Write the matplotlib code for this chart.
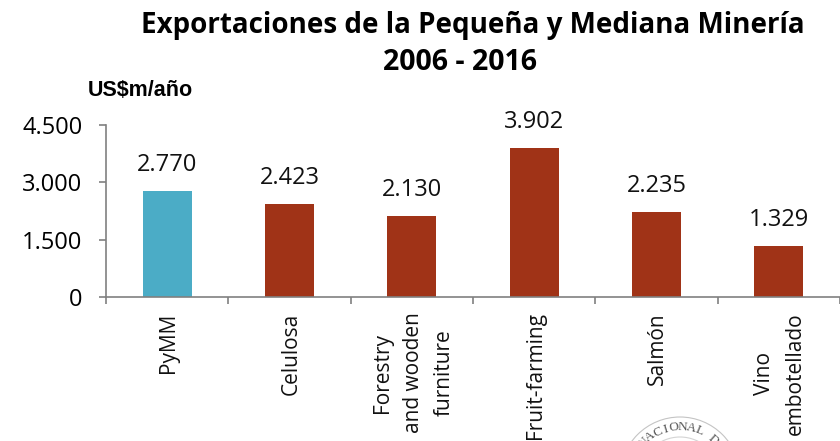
import numpy as np
import matplotlib
matplotlib.use("Agg")
import matplotlib.pyplot as plt
from matplotlib.patches import Circle

categories = ["PyMM", "Celulosa", "Forestry\nand wooden\nfurniture", "Fruit-farming", "Salmón", "Vino\nembotellado"]
values = [2770, 2423, 2130, 3902, 2235, 1329]
value_labels = ["2.770", "2.423", "2.130", "3.902", "2.235", "1.329"]
colors = ["#4BACC6", "#A03317", "#A03317", "#A03317", "#A03317", "#A03317"]
yticks = [0, 1500, 3000, 4500]
ytick_labels = ["0", "1.500", "3.000", "4.500"]
seal_text = "NACIONAL D"

plt.rcParams['font.family'] = ['Open Sans', 'DejaVu Sans']

fig = plt.figure(figsize=(8.4, 4.41), dpi=100)
ax = fig.add_axes([106/840, 1-297/441, (840-106)/840, (297-125)/441])

x = np.arange(len(categories))
ax.bar(x, values, width=0.4, color=colors)
for xi, v, lab in zip(x, values, value_labels):
    ax.annotate(lab, (xi, v), xytext=(0, 10), textcoords="offset points", ha="center", va="bottom", fontsize=17, color="#111111")

ax.set_xlim(-0.5, 5.5)
ax.set_ylim(0, 4500)
ax.set_yticks(yticks)
ax.set_yticklabels(ytick_labels, fontsize=17)
ax.set_xticks(np.arange(-0.5, 6, 1))
ax.set_xticklabels([])
ax.tick_params(axis="both", color="#808080", length=5, width=1.2)
ax.tick_params(axis="y", pad=12)
for s in ["top", "right"]:
    ax.spines[s].set_visible(False)
for s in ["left", "bottom"]:
    ax.spines[s].set_color("#808080")
    ax.spines[s].set_linewidth(1.2)

# category labels, centred as a block, the long ones run to the bottom edge
for xi, c in zip(x, categories):
    ax.annotate(c, (xi, 0), xytext=(1, -11), textcoords="offset points", rotation=90, ha="center", va="top",
                fontsize=15, multialignment="center", linespacing=1.6, annotation_clip=False, color="#111111")

fig.text(473/840, 1-26/441, "Exportaciones de la Pequeña y Mediana Minería", ha="center", va="center", fontsize=20, fontweight="bold")
fig.text(460/840, 1-62/441, "2006 - 2016", ha="center", va="center", fontsize=20.5, fontweight="bold")
fig.text(88/840, 1-90/441, "US$m/año", fontsize=15.5, fontweight="bold", va="center", family="Liberation Sans")

# the stamp at the bottom edge, only its top shows
overlay = fig.add_axes([0, 0, 1, 1], facecolor="none")
overlay.set_xlim(0, 840)
overlay.set_ylim(441, 0)
overlay.axis("off")
overlay.add_patch(Circle((680, 477), 60, fill=False, ec="#c4c4c4", lw=0.8))
overlay.add_patch(Circle((680, 477), 40, fill=False, ec="#d4d4d4", lw=0.8))
for ch, ang in zip(seal_text, np.linspace(-46, 42, len(seal_text))):
    a = np.radians(ang)
    overlay.text(680 + 50*np.sin(a), 477 - 50*np.cos(a), ch, rotation=-ang, ha="center", va="center",
                 fontsize=9.5, family="Liberation Serif", color="#555555", clip_on=True)

fig.savefig("out.png", dpi=100)
